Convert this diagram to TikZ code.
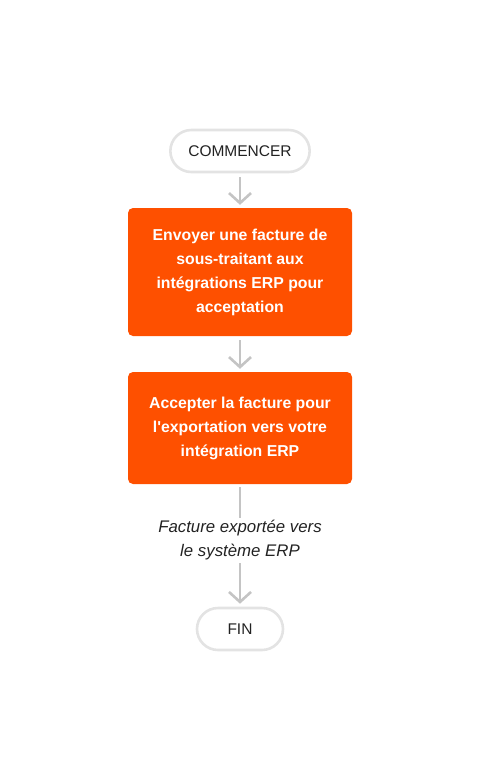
\documentclass[tikz,border=0pt]{standalone}
\usepackage{fontspec}
\setmainfont{Liberation Sans}
\usetikzlibrary{arrows.meta}
\definecolor{orangebox}{HTML}{FE5000}
\definecolor{pillline}{HTML}{E3E3E3}
\definecolor{arrowgray}{HTML}{C4C4C4}
\definecolor{textdark}{HTML}{222222}

\begin{document}
\begin{tikzpicture}[x=1pt,y=-1pt,
        terminal/.style={draw=pillline,line width=2.6pt,fill=white,rounded corners=21pt,
            minimum height=42pt,text=textdark,font=\fontsize{15.5}{18}\selectfont,inner xsep=18pt},
        stepbox/.style={fill=orangebox,rounded corners=5pt,minimum width=224pt,text=white,
            align=center,font=\fontsize{15.8}{24}\selectfont\bfseries},
        result/.style={text=textdark,align=center,font=\fontsize{16.8}{24}\selectfont\itshape},
        flow/.style={draw=arrowgray,line width=2.6pt,-{Straight Barb[length=10pt,width=22pt,line width=2.6pt]}},
        plain/.style={draw=arrowgray,line width=2.6pt}]
    \useasboundingbox (0,0) rectangle (480,780);
    \node[terminal] (start) at (240,151) {COMMENCER};
    \node[stepbox,minimum height=128pt] (send) at (240,272)
        {Envoyer une facture de\\sous-traitant aux\\intégrations ERP pour\\acceptation};
    \node[stepbox,minimum height=112pt] (accept) at (240,428)
        {Accepter la facture pour\\l\textquotesingle exportation vers votre\\intégration ERP};
    \node[result] (exported) at (240,540) {Facture exportée vers\\le système ERP};
    \node[terminal,minimum width=86pt] (stop) at (240,629) {FIN};
    \draw[flow] ([yshift=-4pt]start.south) -- ([yshift=3pt]send.north);
    \draw[flow] ([yshift=-4pt]send.south) -- ([yshift=3pt]accept.north);
    \draw[plain] ([yshift=-3pt]accept.south) -- ([yshift=-1pt]exported.north);
    \draw[flow] (exported.south) -- ([yshift=3pt]stop.north);
\end{tikzpicture}
\end{document}
